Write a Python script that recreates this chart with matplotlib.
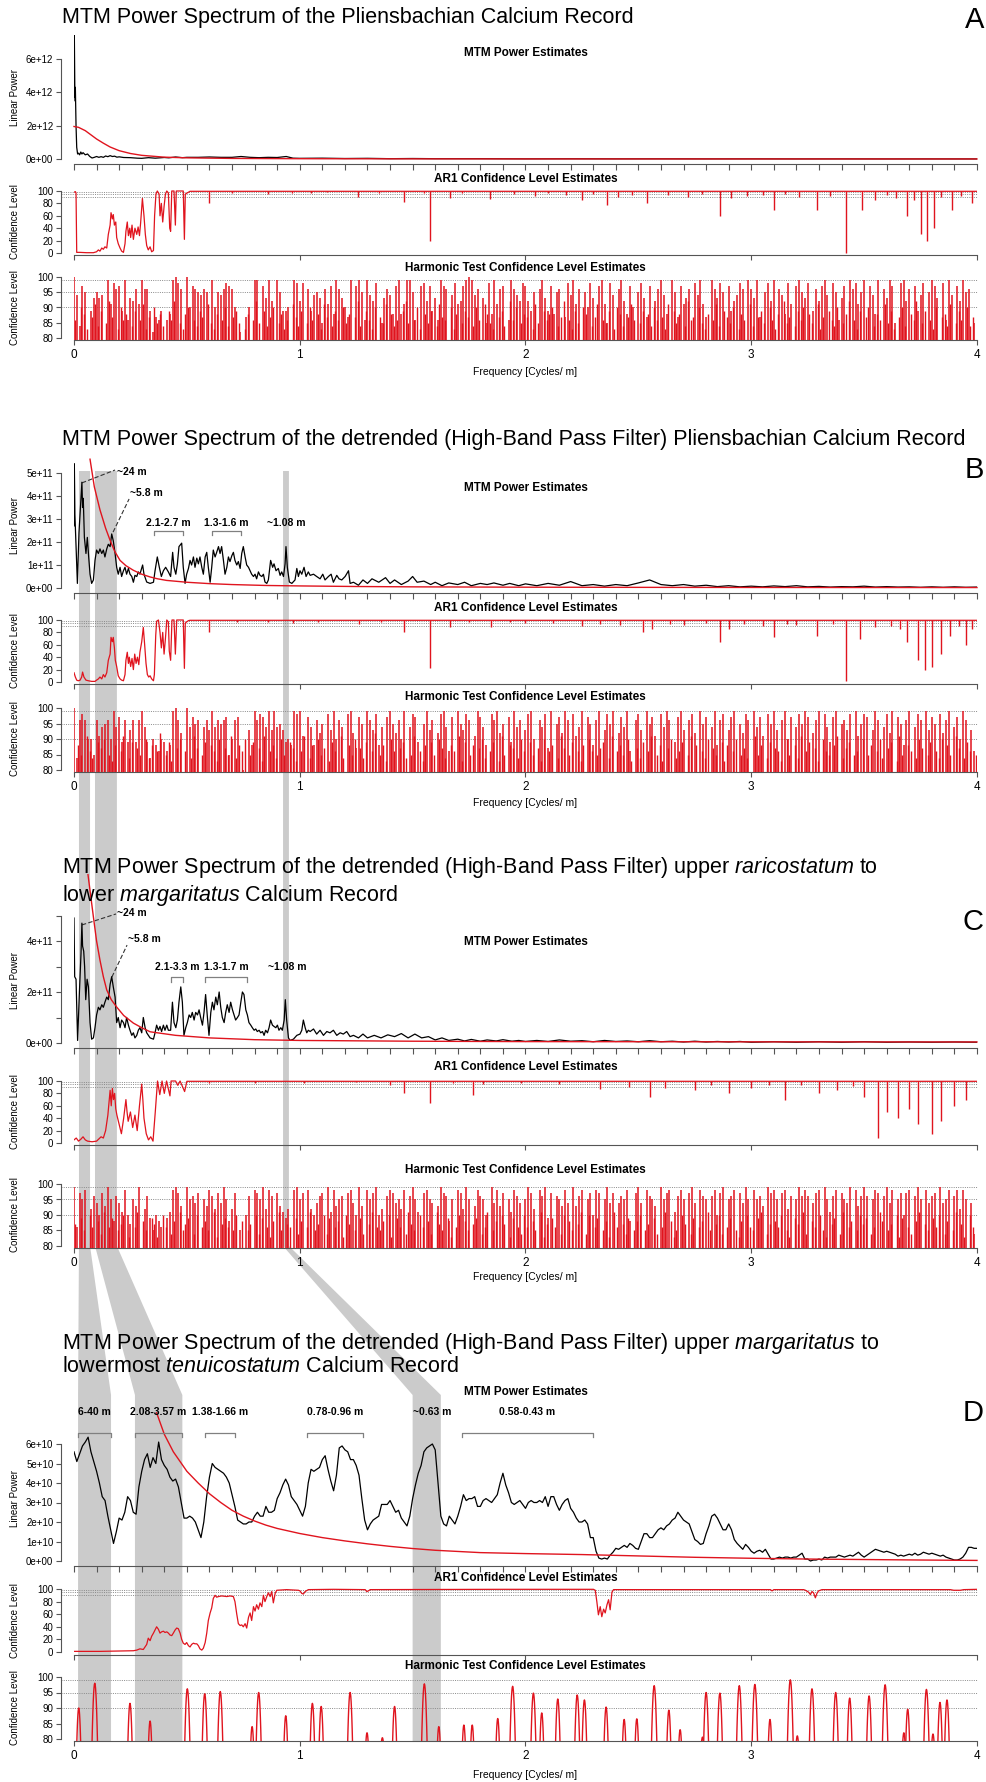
import numpy as np
import matplotlib
matplotlib.use("Agg")
import matplotlib.pyplot as plt
from matplotlib.patches import Polygon

plt.rcParams['font.family'] = ['Liberation Sans', 'DejaVu Sans']
plt.rcParams['mathtext.fontset'] = 'custom'
plt.rcParams['mathtext.rm'] = 'Liberation Sans'
plt.rcParams['mathtext.it'] = 'Liberation Sans:italic'

W, H = 987, 1782
RED = '#e0141e'
BAND = '#cbcbcb'
AXC = '#555555'
DOTC = '#8a8a8a'

# ----------------------------------------------------------------- data
# Panel A (power in units of 1e12)
A_mtm = [(0.0, 3.5), (0.0015, 7.4), (0.004, 3.7), (0.006, 4.3), (0.009, 2.0), (0.012, 0.7),
         (0.016, 0.3), (0.02, 0.35), (0.025, 0.25), (0.03, 0.42), (0.035, 0.3), (0.04, 0.38),
         (0.05, 0.25), (0.06, 0.3), (0.07, 0.15), (0.08, 0.06), (0.09, 0.1), (0.10, 0.15),
         (0.11, 0.1), (0.12, 0.14), (0.13, 0.1), (0.14, 0.18), (0.15, 0.14), (0.16, 0.2),
         (0.17, 0.15), (0.18, 0.17), (0.19, 0.11), (0.20, 0.13), (0.22, 0.09), (0.25, 0.08),
         (0.28, 0.05), (0.30, 0.04), (0.33, 0.08), (0.36, 0.05), (0.40, 0.09), (0.42, 0.07),
         (0.45, 0.12), (0.48, 0.08), (0.50, 0.1), (0.55, 0.1), (0.60, 0.12), (0.65, 0.1),
         (0.70, 0.1), (0.74, 0.15), (0.78, 0.1), (0.82, 0.08), (0.86, 0.1), (0.90, 0.09),
         (0.94, 0.15), (0.97, 0.05), (1.0, 0.04), (1.1, 0.05), (1.2, 0.03), (1.3, 0.04),
         (1.4, 0.02), (1.5, 0.03), (1.6, 0.02), (1.8, 0.02), (2.0, 0.01), (2.2, 0.015),
         (2.4, 0.01), (2.6, 0.012), (2.8, 0.008), (3.0, 0.01), (3.2, 0.006), (3.4, 0.008),
         (3.6, 0.005), (3.8, 0.006), (4.0, 0.005)]
A_ar1fit = [(0.0, 1.95), (0.02, 1.9), (0.05, 1.7), (0.08, 1.4), (0.10, 1.2), (0.13, 0.95),
            (0.16, 0.72), (0.20, 0.5), (0.25, 0.33), (0.30, 0.22), (0.40, 0.11), (0.50, 0.07),
            (0.70, 0.035), (1.0, 0.018), (1.5, 0.008), (2.0, 0.005), (3.0, 0.003), (4.0, 0.002)]
A_ar1 = [(0.0, 98), (0.006, 99), (0.009, 97), (0.012, 1), (0.027, 1), (0.056, 0.5), (0.086, 0.5),
         (0.10, 2), (0.108, 5), (0.115, 3), (0.123, 8), (0.13, 6), (0.137, 10), (0.145, 8),
         (0.152, 30), (0.16, 45), (0.164, 65), (0.17, 55), (0.174, 62), (0.179, 45), (0.185, 50),
         (0.189, 25), (0.196, 15), (0.204, 8), (0.211, 3), (0.219, 1), (0.226, 15), (0.23, 35),
         (0.236, 50), (0.241, 28), (0.247, 40), (0.251, 25), (0.257, 45), (0.263, 22), (0.27, 40),
         (0.278, 30), (0.284, 42), (0.29, 28), (0.295, 48), (0.303, 88), (0.31, 60), (0.316, 30),
         (0.322, 12), (0.329, 5), (0.337, 10), (0.344, 2), (0.352, 4), (0.357, 60), (0.363, 95),
         (0.369, 100), (0.377, 95), (0.381, 60), (0.387, 80), (0.393, 50), (0.399, 75),
         (0.405, 95), (0.411, 100), (0.418, 97), (0.424, 40), (0.428, 35), (0.433, 100),
         (0.443, 100), (0.449, 45), (0.453, 100), (0.484, 100), (0.489, 22), (0.493, 95),
         (0.502, 97), (0.514, 99.5), (4.0, 99.5)]
A_ar1_dips = [(0.598, 80), (0.70, 97), (0.858, 95), (0.967, 96), (1.05, 97), (1.12, 98),
              (1.26, 91), (1.35, 96), (1.46, 82), (1.55, 97), (1.577, 20), (1.666, 88),
              (1.72, 96), (1.843, 87), (1.95, 95), (2.04, 92), (2.10, 96), (2.18, 94), (2.25, 85),
              (2.30, 95), (2.36, 78), (2.41, 90), (2.47, 93), (2.54, 80), (2.63, 94), (2.72, 90),
              (2.78, 95), (2.86, 60), (2.91, 88), (2.98, 92), (3.05, 93), (3.10, 70), (3.15, 95),
              (3.21, 90), (3.29, 70), (3.35, 92), (3.42, 0), (3.49, 70), (3.55, 85), (3.60, 93),
              (3.64, 88), (3.69, 60), (3.72, 85), (3.75, 30), (3.78, 20), (3.81, 40), (3.84, 90),
              (3.89, 70), (3.93, 92), (3.98, 80)]
A_harm = [
    100, 94, 84, 97, 95, 0, 89, 93, 95, 93, 94, 0, 99, 91, 98, 96, 97, 89, 99, 86,
    93, 92, 96, 91, 99, 96, 96, 89, 82, 87, 86, 89, 0, 86, 88, 99, 100, 98, 96, 0,
    100, 90, 97, 96, 95, 94, 96, 95, 0, 99, 90, 95, 94, 96, 98, 97, 96, 90, 0, 82,
    0, 87, 90, 0, 99, 99, 0, 97, 93, 99, 92, 0, 99, 95, 89, 89, 90, 0, 99, 98,
    92, 98, 0, 96, 89, 94, 95, 93, 85, 96, 91, 97, 88, 99, 96, 93, 90, 87, 99, 0,
    97, 99, 95, 86, 99, 94, 92, 98, 0, 85, 93, 96, 94, 88, 97, 99, 88, 91, 99, 99,
    95, 86, 0, 97, 98, 92, 97, 89, 93, 86, 99, 97, 96, 0, 94, 98, 91, 92, 97, 99,
    100, 99, 94, 96, 0, 93, 85, 98, 88, 99, 91, 96, 97, 0, 86, 99, 96, 94, 92, 98,
    97, 92, 89, 95, 0, 96, 99, 93, 89, 97, 88, 95, 96, 0, 87, 98, 94, 99, 91, 96,
    0, 95, 90, 98, 93, 0, 97, 99, 91, 85, 98, 94, 0, 96, 99, 92, 88, 97, 90, 0,
    95, 98, 93, 87, 97, 0, 92, 96, 99, 94, 88, 0, 99, 95, 87, 97, 91, 93, 96, 0,
    98, 94, 99, 91, 87, 0, 99, 96, 93, 98, 95, 0, 97, 89, 92, 94, 98, 96, 0, 99,
    96, 93, 99, 87, 0, 95, 98, 92, 99, 0, 96, 94, 88, 98, 91, 0, 97, 99, 95, 93,
    98, 0, 89, 96, 92, 97, 99, 94, 0, 98, 95, 86, 93, 97, 0, 99, 96, 98, 91, 95,
    99, 0, 97, 94, 88, 99, 0, 96, 93, 99, 97, 85, 0, 98, 99, 92, 96, 0, 97, 89,
    94, 98, 0, 95, 99, 97, 93, 0, 98, 86, 99, 94, 0, 97, 92, 99, 95, 96, 0, 85]
A_harm_minor = [
    86, 0, 90, 88, 83, 0, 87, 91, 84, 89, 0, 85, 92, 87, 0, 83, 90, 86, 88, 0,
    84, 89, 0, 86, 91, 83, 87, 0, 90, 85, 88, 84, 0, 89, 86, 92, 0, 85, 83, 88,
    90, 0, 86, 84, 89, 87, 0, 91, 85, 83, 88, 0, 86, 90, 84, 0, 87, 89, 85, 0,
    83, 88, 0, 86, 92, 85, 0, 89, 84, 87, 90, 0, 85, 88, 83, 86, 0, 91, 87, 84,
    89, 0, 85, 90, 86, 0, 88, 83, 91, 87, 0, 84, 89, 86, 0, 90, 85, 88, 0, 87,
    92, 84, 0, 89, 86, 83, 90, 0, 87, 85, 91, 0, 88, 84, 86, 0, 89, 92, 85, 0,
    86, 90, 83, 0, 88, 85, 89, 0, 84, 91, 87, 86, 0, 90, 83, 88, 0, 85, 89, 87,
    0, 84, 90, 86, 0, 91, 88, 85, 83, 0, 87, 89, 84, 0, 92, 86, 90, 0, 85, 88,
    87, 0, 83, 91, 85, 0, 89, 86, 88, 90, 0, 84, 87, 92, 0, 86, 83, 89, 85, 0,
    90, 88, 0, 84, 87, 91, 0, 86, 85, 89, 0, 83, 90, 88, 84, 0, 87, 91, 86, 0,
    85, 89, 0, 88, 84, 90, 86, 0, 87, 83, 91, 0, 89, 85, 88, 0, 84, 92, 86, 87,
    0, 90, 85, 83, 88, 0, 86, 91, 84, 0, 89, 87, 85, 90, 0, 83, 88, 86, 0, 91,
    84, 0, 87, 89, 85, 0, 90, 86, 83, 88, 0, 92, 85, 87, 0, 84, 89, 86, 90, 0,
    88, 85, 0, 91, 83, 87, 0, 89, 86, 84, 90, 0, 85, 88, 92, 0, 86, 83, 89, 0,
    87, 90, 0, 84, 88, 86, 0, 91, 85, 89, 83, 0, 87, 90, 84, 0, 88, 86, 92, 0,
    85, 89, 0, 86, 83, 90, 0, 87, 88, 84, 91, 0, 85, 89, 86, 0, 90, 84, 87, 0]

# Panel B (power in units of 1e11)
B_mtm = [(0.000, 2.7), (0.0015, 5.4), (0.004, 3.2), (0.006, 2.65), (0.012, 1.0), (0.015, 0.2),
         (0.022, 2.4), (0.030, 3.8), (0.035, 4.6), (0.038, 3.5), (0.041, 3.9), (0.046, 2.2),
         (0.053, 1.5), (0.059, 2.2), (0.065, 1.35), (0.071, 0.6), (0.078, 0.2), (0.086, 0.35),
         (0.093, 1.2), (0.100, 1.65), (0.108, 1.5), (0.115, 1.7), (0.123, 1.5), (0.130, 1.65),
         (0.137, 1.35), (0.145, 1.7), (0.152, 1.9), (0.160, 1.8), (0.167, 2.35), (0.174, 2.05),
         (0.182, 1.5), (0.189, 0.9), (0.196, 0.6), (0.204, 0.9), (0.211, 0.5), (0.219, 0.75),
         (0.226, 0.9), (0.233, 0.6), (0.241, 0.85), (0.248, 0.6), (0.256, 0.5), (0.263, 0.25),
         (0.270, 0.55), (0.278, 0.5), (0.285, 0.7), (0.292, 0.6), (0.304, 1.0), (0.310, 0.6),
         (0.322, 0.26), (0.337, 0.2), (0.352, 0.25), (0.359, 0.75), (0.369, 1.35), (0.378, 0.9),
         (0.387, 0.5), (0.396, 0.75), (0.406, 0.9), (0.418, 0.7), (0.428, 0.5), (0.437, 1.55),
         (0.443, 0.9), (0.451, 0.6), (0.458, 1.05), (0.465, 1.8), (0.477, 1.95), (0.484, 0.9),
         (0.492, 0.2), (0.499, 0.6), (0.507, 0.85), (0.514, 1.2), (0.521, 1.0), (0.529, 1.35),
         (0.536, 0.9), (0.544, 1.3), (0.551, 1.05), (0.558, 1.35), (0.566, 0.9), (0.573, 0.6),
         (0.581, 1.35), (0.588, 1.55), (0.595, 0.9), (0.603, 0.25), (0.610, 0.9), (0.617, 1.65),
         (0.625, 1.35), (0.632, 1.55), (0.640, 1.8), (0.647, 1.5), (0.654, 1.8), (0.662, 1.2),
         (0.669, 0.6), (0.677, 0.9), (0.684, 1.35), (0.691, 1.15), (0.699, 1.4), (0.706, 1.55),
         (0.713, 1.2), (0.721, 1.0), (0.728, 1.15), (0.736, 0.85), (0.743, 1.5), (0.750, 1.8),
         (0.758, 1.35), (0.765, 1.0), (0.773, 0.9), (0.780, 0.75), (0.787, 0.6), (0.795, 0.5),
         (0.802, 0.6), (0.809, 0.4), (0.817, 0.7), (0.824, 0.55), (0.832, 0.5), (0.839, 0.6),
         (0.846, 0.26), (0.854, 0.2), (0.861, 0.35), (0.871, 1.2), (0.880, 0.9), (0.886, 1.05),
         (0.895, 0.75), (0.905, 0.85), (0.913, 0.55), (0.920, 0.7), (0.928, 0.5), (0.935, 1.05),
         (0.939, 1.8), (0.945, 0.9), (0.954, 0.26), (0.965, 0.2), (0.979, 0.35), (0.987, 0.85),
         (0.994, 0.5), (1.001, 0.75), (1.009, 0.6), (1.019, 0.9), (1.028, 0.5), (1.038, 0.7),
         (1.046, 0.55), (1.061, 0.6), (1.075, 0.5), (1.090, 0.4), (1.102, 0.6), (1.112, 0.35),
         (1.127, 0.5), (1.139, 0.6), (1.149, 0.25), (1.164, 0.55), (1.174, 0.4), (1.186, 0.35),
         (1.201, 0.5), (1.216, 0.75), (1.223, 0.2), (1.238, 0.25), (1.260, 0.12), (1.28, 0.35),
         (1.30, 0.2), (1.32, 0.4), (1.35, 0.25), (1.38, 0.45), (1.40, 0.2), (1.42, 0.35),
         (1.45, 0.15), (1.48, 0.3), (1.50, 0.5), (1.52, 0.25), (1.55, 0.3), (1.58, 0.15),
         (1.60, 0.25), (1.63, 0.1), (1.66, 0.22), (1.70, 0.15), (1.73, 0.25), (1.76, 0.1),
         (1.80, 0.2), (1.83, 0.15), (1.86, 0.22), (1.90, 0.12), (1.93, 0.2), (1.97, 0.1),
         (2.00, 0.18), (2.05, 0.1), (2.10, 0.2), (2.15, 0.12), (2.20, 0.28), (2.25, 0.1),
         (2.30, 0.15), (2.35, 0.08), (2.40, 0.15), (2.45, 0.1), (2.50, 0.22), (2.55, 0.35),
         (2.60, 0.15), (2.65, 0.1), (2.70, 0.15), (2.75, 0.08), (2.80, 0.12), (2.85, 0.06),
         (2.90, 0.1), (2.95, 0.05), (3.00, 0.08), (3.05, 0.05), (3.10, 0.09), (3.15, 0.06),
         (3.20, 0.1), (3.25, 0.05), (3.30, 0.07), (3.35, 0.04), (3.40, 0.06), (3.45, 0.05),
         (3.50, 0.08), (3.55, 0.04), (3.60, 0.06), (3.65, 0.04), (3.70, 0.05), (3.75, 0.03),
         (3.80, 0.05), (3.85, 0.03), (3.90, 0.05), (3.95, 0.03), (4.00, 0.04)]
B_ar1fit = [(0.071, 5.6), (0.09, 4.4), (0.115, 3.4), (0.14, 2.6), (0.16, 2.07), (0.18, 1.6),
            (0.204, 1.2), (0.23, 0.97), (0.263, 0.77), (0.30, 0.6), (0.337, 0.48), (0.37, 0.4),
            (0.41, 0.33), (0.5, 0.25), (0.6, 0.19), (0.7, 0.15), (0.85, 0.11), (1.0, 0.09),
            (1.25, 0.065), (1.5, 0.05), (2.0, 0.035), (2.5, 0.028), (3.0, 0.024), (3.5, 0.021),
            (4.0, 0.02)]
B_ar1 = [(0.0, 15), (0.006, 8), (0.012, 3), (0.019, 2), (0.027, 3), (0.034, 8), (0.038, 16),
         (0.044, 8), (0.053, 3), (0.064, 2), (0.078, 1), (0.093, 1), (0.10, 3), (0.108, 5),
         (0.115, 8), (0.123, 5), (0.13, 12), (0.137, 8), (0.145, 15), (0.152, 35), (0.16, 45),
         (0.164, 72), (0.17, 65), (0.174, 72), (0.179, 55), (0.183, 35), (0.189, 25), (0.196, 10),
         (0.204, 5), (0.211, 3), (0.219, 2), (0.226, 12), (0.23, 35), (0.236, 48), (0.241, 30),
         (0.245, 40), (0.251, 25), (0.257, 38), (0.263, 20), (0.269, 45), (0.275, 30), (0.281, 40),
         (0.287, 28), (0.292, 48), (0.30, 65), (0.307, 88), (0.313, 60), (0.319, 30), (0.325, 12),
         (0.331, 8), (0.337, 10), (0.344, 5), (0.352, 2), (0.356, 12), (0.362, 75), (0.366, 98),
         (0.374, 100), (0.381, 80), (0.387, 55), (0.393, 80), (0.399, 45), (0.405, 70),
         (0.411, 100), (0.418, 97), (0.422, 50), (0.428, 35), (0.434, 100), (0.443, 100),
         (0.449, 45), (0.455, 100), (0.484, 100), (0.489, 22), (0.493, 95), (0.499, 97),
         (0.507, 99), (0.514, 99.5), (4.0, 99.5)]
B_ar1_dips = [(0.60, 80), (0.72, 97), (0.858, 96), (0.972, 95), (1.08, 97), (1.263, 93),
              (1.36, 97), (1.464, 80), (1.578, 22), (1.666, 88), (1.75, 96), (1.848, 88),
              (1.93, 96), (2.0, 95), (2.12, 95), (2.25, 90), (2.33, 94), (2.42, 92), (2.52, 80),
              (2.56, 85), (2.64, 94), (2.70, 92), (2.80, 95), (2.86, 65), (2.90, 85), (2.97, 93),
              (3.05, 90), (3.10, 72), (3.16, 94), (3.20, 92), (3.29, 75), (3.36, 93), (3.42, 2),
              (3.48, 70), (3.55, 88), (3.62, 90), (3.66, 86), (3.69, 65), (3.74, 35), (3.77, 20),
              (3.80, 25), (3.84, 45), (3.88, 75), (3.92, 90), (3.95, 60), (3.98, 85)]
B_harm = [
    100, 84, 96, 98, 96, 90, 90, 85, 96, 91, 94, 95, 96, 90, 99, 94, 97, 89, 96, 89,
    93, 96, 89, 96, 99, 94, 89, 84, 90, 88, 86, 90, 89, 86, 88, 99, 100, 96, 92, 0,
    100, 94, 97, 95, 96, 0, 94, 96, 93, 99, 94, 96, 95, 96, 97, 85, 90, 96, 97, 0,
    80, 0, 93, 88, 99, 96, 98, 97, 94, 99, 93, 99, 94, 95, 93, 89, 90, 88, 99, 98,
    99, 91, 0, 97, 94, 88, 96, 92, 95, 0, 98, 93, 99, 90, 96, 94, 0, 98, 99, 92,
    87, 97, 95, 0, 99, 96, 93, 98, 88, 94, 0, 97, 99, 95, 92, 96, 90, 99, 0, 94,
    98, 97, 89, 0, 95, 99, 93, 96, 0, 92, 98, 99, 94, 86, 97, 0, 99, 95, 93, 98,
    96, 0, 91, 99, 97, 94, 88, 0, 98, 96, 99, 92, 95, 0, 97, 89, 99, 94, 96, 0,
    93, 98, 99, 90, 0, 96, 94, 98, 87, 99, 0, 95, 97, 92, 99, 96, 0, 98, 91, 94,
    99, 0, 97, 95, 88, 96, 99, 0, 93, 98, 95, 99, 0, 92, 97, 94, 99, 86, 0, 96,
    98, 93, 0, 99, 95, 97, 91, 0, 98, 94, 99, 96, 0, 89, 97, 99, 93, 0, 96, 98,
    92, 0, 99, 95, 97, 0, 94, 99, 88, 96, 98, 0, 93, 97, 99, 0, 95, 92, 98, 96,
    0, 99, 94, 97, 91, 0, 98, 95, 99, 93, 0, 96, 99, 90, 97, 0, 94, 98, 95, 99,
    97, 0, 92, 96, 99, 0, 98, 94, 89, 97, 99, 0, 95, 96, 93, 98, 0, 99, 91, 95,
    98, 97, 0, 93, 99, 96, 0, 94, 98, 92, 99, 0, 97, 95, 88, 96, 99, 0, 94, 98,
    96, 0, 99, 93, 97, 95, 0, 98, 92, 96, 99, 0, 94, 97, 90, 99, 96, 0, 93, 86]
B_harm_minor = [
    0, 88, 85, 0, 91, 86, 84, 0, 89, 87, 90, 0, 85, 83, 88, 0, 86, 91, 0, 84,
    89, 0, 87, 85, 0, 90, 84, 88, 0, 86, 92, 0, 85, 89, 83, 0, 87, 90, 0, 86,
    0, 84, 91, 87, 0, 85, 89, 0, 88, 86, 83, 90, 0, 87, 85, 91, 0, 84, 88, 86,
    90, 0, 85, 89, 0, 87, 83, 91, 0, 86, 88, 84, 0, 90, 85, 0, 89, 87, 83, 0,
    86, 91, 0, 84, 88, 0, 90, 85, 87, 0, 83, 89, 86, 0, 91, 84, 0, 88, 85, 90,
    0, 87, 84, 89, 0, 86, 92, 0, 85, 88, 83, 0, 90, 86, 0, 87, 89, 84, 0, 85,
    91, 0, 86, 83, 88, 0, 89, 85, 0, 90, 87, 84, 0, 88, 86, 0, 91, 83, 89, 0,
    85, 88, 0, 87, 90, 84, 0, 86, 89, 0, 83, 91, 85, 0, 88, 87, 0, 84, 90, 86,
    0, 89, 85, 0, 87, 83, 90, 0, 86, 88, 0, 84, 91, 87, 0, 85, 89, 0, 86, 83,
    88, 0, 90, 86, 0, 85, 87, 89, 0, 84, 91, 0, 86, 88, 85, 0, 90, 83, 0, 87,
    84, 89, 0, 86, 91, 0, 85, 88, 83, 0, 87, 90, 0, 84, 86, 89, 0, 85, 91, 0,
    88, 0, 86, 84, 90, 0, 87, 85, 0, 89, 83, 88, 0, 86, 90, 0, 85, 87, 84, 0,
    0, 91, 85, 88, 0, 84, 89, 0, 87, 86, 83, 0, 90, 85, 0, 88, 84, 91, 0, 86,
    89, 0, 87, 83, 0, 90, 86, 85, 0, 88, 91, 0, 84, 87, 89, 0, 85, 86, 0, 90,
    0, 85, 88, 0, 86, 90, 84, 0, 87, 89, 0, 83, 91, 85, 0, 88, 86, 0, 84, 90,
    87, 0, 85, 89, 0, 86, 84, 90, 0, 88, 85, 0, 91, 87, 0, 84, 89, 86, 0, 85]

# Panel C (power in units of 1e11)
C_mtm = [(0.000, 4.9), (0.003, 2.6), (0.009, 2.5), (0.016, 0.1), (0.024, 2.0), (0.031, 3.5),
         (0.035, 4.7), (0.038, 3.8), (0.043, 3.6), (0.047, 3.0), (0.052, 1.7), (0.058, 2.5),
         (0.064, 2.2), (0.071, 0.8), (0.078, 0.15), (0.086, 0.2), (0.093, 0.6), (0.100, 1.1),
         (0.108, 1.4), (0.115, 1.3), (0.123, 1.5), (0.130, 1.4), (0.137, 1.6), (0.145, 1.8),
         (0.152, 1.7), (0.160, 2.3), (0.167, 2.6), (0.174, 2.2), (0.182, 1.8), (0.189, 0.8),
         (0.196, 1.0), (0.204, 0.6), (0.211, 0.9), (0.219, 0.8), (0.226, 0.6), (0.233, 1.0),
         (0.241, 0.7), (0.248, 0.5), (0.256, 0.3), (0.263, 0.4), (0.270, 0.2), (0.278, 0.3),
         (0.285, 0.5), (0.292, 0.6), (0.300, 0.4), (0.307, 1.0), (0.315, 0.6), (0.322, 0.4),
         (0.337, 0.2), (0.352, 0.15), (0.359, 0.4), (0.366, 0.7), (0.374, 0.5), (0.381, 0.65),
         (0.388, 0.45), (0.396, 0.7), (0.403, 0.5), (0.411, 0.7), (0.418, 0.5), (0.428, 0.5),
         (0.436, 1.6), (0.443, 0.8), (0.451, 0.6), (0.458, 0.9), (0.465, 1.6), (0.473, 2.2),
         (0.480, 1.6), (0.487, 0.3), (0.495, 0.6), (0.502, 0.8), (0.510, 1.1), (0.517, 1.0),
         (0.524, 1.2), (0.532, 0.9), (0.539, 1.2), (0.547, 1.1), (0.554, 1.3), (0.561, 1.0),
         (0.569, 0.7), (0.576, 1.2), (0.583, 1.9), (0.591, 1.0), (0.598, 0.3), (0.606, 1.2),
         (0.613, 1.6), (0.620, 1.3), (0.628, 1.8), (0.635, 1.5), (0.643, 2.0), (0.650, 1.4),
         (0.657, 1.0), (0.665, 0.8), (0.672, 1.2), (0.679, 1.5), (0.687, 1.2), (0.694, 1.6),
         (0.702, 1.3), (0.709, 1.1), (0.716, 0.9), (0.724, 1.0), (0.731, 1.1), (0.739, 1.6),
         (0.746, 2.0), (0.753, 1.9), (0.761, 1.3), (0.768, 1.1), (0.775, 0.8), (0.783, 0.7),
         (0.790, 0.6), (0.798, 0.5), (0.805, 0.55), (0.812, 0.45), (0.820, 0.5), (0.827, 0.4),
         (0.835, 0.45), (0.842, 0.3), (0.849, 0.5), (0.857, 0.4), (0.864, 0.6), (0.871, 0.9),
         (0.879, 0.7), (0.886, 0.65), (0.894, 0.6), (0.901, 0.7), (0.908, 0.5), (0.916, 0.6),
         (0.923, 0.5), (0.931, 0.9), (0.936, 1.7), (0.942, 0.9), (0.950, 0.2), (0.957, 0.1),
         (0.972, 0.15), (0.987, 0.3), (1.001, 0.35), (1.009, 0.5), (1.016, 0.9), (1.024, 0.6),
         (1.031, 0.4), (1.038, 0.5), (1.046, 0.45), (1.061, 0.55), (1.075, 0.35), (1.090, 0.5),
         (1.105, 0.3), (1.120, 0.45), (1.134, 0.4), (1.149, 0.5), (1.164, 0.3), (1.179, 0.4),
         (1.193, 0.35), (1.208, 0.45), (1.223, 0.25), (1.238, 0.3), (1.26, 0.2), (1.28, 0.35),
         (1.30, 0.2), (1.33, 0.3), (1.36, 0.2), (1.39, 0.32), (1.42, 0.25), (1.45, 0.37),
         (1.48, 0.2), (1.51, 0.35), (1.54, 0.2), (1.57, 0.25), (1.60, 0.12), (1.63, 0.2),
         (1.66, 0.1), (1.70, 0.15), (1.73, 0.08), (1.76, 0.14), (1.80, 0.07), (1.83, 0.12),
         (1.87, 0.08), (1.90, 0.13), (1.94, 0.07), (1.97, 0.1), (2.00, 0.06), (2.05, 0.1),
         (2.10, 0.06), (2.15, 0.12), (2.20, 0.07), (2.25, 0.09), (2.30, 0.05), (2.35, 0.1),
         (2.40, 0.06), (2.45, 0.08), (2.50, 0.05), (2.55, 0.09), (2.60, 0.05), (2.65, 0.07),
         (2.70, 0.04), (2.75, 0.07), (2.80, 0.04), (2.85, 0.06), (2.90, 0.04), (2.95, 0.06),
         (3.00, 0.03), (3.10, 0.05), (3.20, 0.03), (3.30, 0.05), (3.40, 0.03), (3.50, 0.05),
         (3.60, 0.03), (3.70, 0.04), (3.80, 0.03), (3.90, 0.04), (4.00, 0.03)]
C_ar1fit = [(0.062, 6.6), (0.075, 5.7), (0.086, 4.94), (0.10, 4.0), (0.115, 3.25), (0.13, 2.6),
            (0.145, 2.08), (0.165, 1.7), (0.189, 1.41), (0.22, 1.08), (0.263, 0.78), (0.30, 0.6),
            (0.337, 0.44), (0.45, 0.3), (0.6, 0.2), (0.8, 0.13), (1.0, 0.1), (1.5, 0.07),
            (2.0, 0.055), (3.0, 0.045), (4.0, 0.04)]
C_ar1 = [(0.0, 5), (0.01, 8), (0.02, 3), (0.03, 6), (0.04, 10), (0.05, 5), (0.06, 3), (0.08, 2),
         (0.10, 3), (0.12, 10), (0.13, 8), (0.14, 20), (0.15, 45), (0.16, 85), (0.165, 60),
         (0.17, 88), (0.175, 70), (0.18, 80), (0.185, 55), (0.19, 45), (0.20, 30), (0.21, 15),
         (0.22, 40), (0.23, 70), (0.235, 50), (0.24, 35), (0.25, 50), (0.26, 25), (0.27, 45),
         (0.28, 20), (0.29, 60), (0.30, 95), (0.305, 70), (0.31, 40), (0.32, 15), (0.33, 5),
         (0.34, 10), (0.35, 3), (0.36, 50), (0.37, 100), (0.38, 78), (0.39, 100), (0.40, 80),
         (0.41, 100), (0.425, 76), (0.43, 100), (0.45, 100), (0.46, 93), (0.47, 100),
         (0.49, 83), (0.50, 99.5), (4.0, 99.5)]
C_ar1_dips = [(0.60, 96), (0.80, 97), (1.02, 97), (1.25, 98), (1.40, 94), (1.46, 80),
              (1.577, 65), (1.68, 96), (1.766, 77), (1.81, 95), (1.98, 96), (2.15, 95),
              (2.33, 87), (2.46, 90), (2.55, 75), (2.62, 88), (2.75, 85), (2.82, 94), (2.90, 80),
              (3.00, 88), (3.08, 94), (3.15, 70), (3.22, 93), (3.30, 80), (3.38, 85), (3.45, 92),
              (3.50, 75), (3.56, 8), (3.60, 50), (3.65, 40), (3.70, 55), (3.74, 30), (3.80, 15),
              (3.84, 35), (3.90, 60), (3.95, 70)]
C_harm = [
    99, 86, 97, 95, 98, 0, 92, 96, 94, 90, 97, 93, 99, 95, 88, 96, 94, 91, 98, 90,
    87, 95, 93, 99, 0, 92, 96, 89, 85, 90, 88, 86, 0, 89, 91, 98, 99, 97, 93, 0,
    99, 95, 96, 94, 97, 0, 95, 93, 98, 96, 92, 97, 94, 99, 95, 88, 92, 97, 0, 85,
    0, 90, 96, 0, 98, 97, 95, 99, 92, 98, 96, 0, 97, 93, 91, 89, 92, 0, 98, 99,
    95, 97, 0, 98, 92, 90, 94, 96, 97, 0, 99, 91, 98, 93, 95, 96, 0, 97, 98, 94,
    90, 99, 93, 0, 98, 95, 97, 99, 90, 92, 0, 96, 98, 97, 94, 95, 92, 98, 0, 96,
    99, 95, 91, 0, 97, 98, 95, 94, 0, 93, 99, 97, 96, 88, 95, 0, 98, 97, 92, 99,
    95, 0, 93, 98, 96, 95, 90, 0, 99, 94, 98, 93, 97, 0, 95, 91, 98, 96, 94, 0,
    95, 99, 97, 92, 0, 98, 96, 99, 89, 97, 0, 96, 95, 93, 98, 94, 0, 99, 93, 96,
    98, 0, 95, 97, 90, 98, 97, 0, 95, 99, 94, 97, 0, 94, 96, 95, 98, 88, 0, 97,
    99, 94, 0, 98, 96, 95, 93, 0, 99, 95, 97, 98, 0, 91, 96, 98, 95, 0, 97, 99,
    94, 0, 98, 96, 95, 0, 96, 98, 90, 97, 99, 0, 95, 96, 98, 0, 97, 94, 99, 95,
    0, 98, 95, 96, 93, 0, 99, 97, 98, 95, 0, 97, 98, 92, 96, 0, 95, 99, 96, 98,
    96, 0, 94, 97, 98, 0, 99, 95, 91, 96, 98, 0, 97, 95, 94, 99, 0, 98, 93, 96,
    99, 96, 0, 95, 98, 97, 0, 96, 99, 94, 98, 0, 95, 97, 90, 97, 98, 0, 96, 99,
    95, 0, 98, 94, 96, 97, 0, 99, 94, 95, 98, 0, 96, 98, 92, 98, 95, 0, 94, 84]
C_harm_minor = [
    87, 0, 89, 85, 0, 90, 86, 0, 88, 84, 91, 0, 86, 89, 0, 85, 87, 90, 0, 83,
    0, 86, 91, 0, 88, 85, 0, 89, 87, 83, 0, 90, 86, 0, 84, 88, 0, 91, 85, 87,
    89, 0, 84, 90, 0, 86, 88, 85, 0, 91, 83, 0, 87, 89, 86, 0, 85, 90, 0, 88,
    0, 85, 87, 0, 90, 84, 89, 0, 86, 83, 88, 0, 91, 85, 0, 87, 86, 0, 89, 84,
    88, 0, 86, 91, 0, 85, 87, 0, 90, 84, 89, 0, 86, 88, 0, 83, 90, 87, 0, 85,
    0, 89, 84, 0, 87, 91, 0, 86, 85, 88, 0, 90, 83, 0, 89, 86, 0, 84, 91, 87,
    85, 0, 90, 86, 0, 88, 84, 0, 91, 87, 85, 0, 89, 83, 0, 86, 90, 0, 88, 85,
    0, 87, 89, 0, 84, 86, 91, 0, 85, 88, 0, 90, 87, 0, 83, 89, 0, 86, 84, 90,
    86, 0, 88, 85, 0, 91, 83, 87, 0, 89, 86, 0, 84, 90, 0, 88, 85, 0, 87, 91,
    0, 84, 90, 0, 86, 89, 0, 85, 88, 83, 0, 91, 86, 0, 87, 84, 89, 0, 85, 88,
    90, 0, 85, 87, 0, 89, 84, 0, 86, 91, 0, 88, 83, 85, 0, 90, 87, 0, 84, 89,
    0, 86, 88, 0, 91, 85, 0, 87, 90, 84, 0, 86, 89, 0, 85, 83, 88, 0, 90, 86,
    85, 0, 89, 91, 0, 84, 87, 0, 88, 86, 90, 0, 85, 83, 0, 89, 87, 0, 91, 84,
    0, 88, 86, 0, 90, 85, 83, 0, 87, 89, 0, 84, 91, 0, 86, 88, 0, 85, 90, 87,
    89, 0, 84, 86, 0, 91, 88, 0, 85, 87, 0, 90, 83, 89, 0, 86, 84, 0, 88, 91,
    0, 87, 85, 0, 89, 86, 90, 0, 84, 88, 0, 85, 91, 0, 87, 83, 0, 90, 86, 0]

# Panel D (power in units of 1e10), regular grid of step 0.0125 from 0 to 4
D_mtm_power = [
    5.6, 5.1, 5.5, 5.9, 6.1, 6.35, 5.6, 5.1, 4.6, 4.0, 3.3, 3.1, 2.3, 1.6, 0.9, 1.5, 2.2, 2.1, 2.5, 3.3,
    3.1, 2.5, 2.4, 3.8, 4.6, 5.2, 5.5, 4.8, 5.3, 5.0, 6.1, 5.2, 4.9, 4.7, 4.3, 4.1, 4.2, 3.8, 3.0, 2.2,
    2.2, 2.3, 2.2, 2.0, 1.6, 1.2, 2.0, 3.3, 4.3, 5.0, 4.8, 4.7, 4.6, 4.5, 4.3, 4.0, 3.4, 2.8, 2.1, 2.0,
    1.9, 1.9, 2.0, 2.0, 2.3, 2.5, 2.3, 2.3, 2.8, 2.5, 2.5, 2.6, 3.2, 3.5, 3.9, 4.2, 3.9, 3.3, 3.1, 2.9,
    2.6, 2.3, 2.8, 4.0, 4.7, 4.6, 4.7, 4.8, 5.2, 5.4, 4.7, 4.1, 3.6, 4.4, 5.8, 5.9, 5.7, 5.6, 5.2, 5.2,
    4.9, 4.4, 3.2, 2.1, 1.6, 1.9, 2.1, 2.2, 2.3, 2.9, 2.9, 2.9, 3.1, 2.8, 2.5, 2.6, 2.2, 2.0, 1.8, 2.3,
    3.2, 3.9, 4.5, 4.9, 5.6, 5.8, 5.9, 6.0, 5.7, 4.0, 2.3, 1.9, 1.8, 2.3, 2.1, 1.9, 2.3, 2.8, 3.4, 3.1,
    3.2, 3.2, 3.3, 2.8, 2.8, 3.1, 3.2, 3.1, 3.0, 3.2, 3.4, 4.0, 4.5, 3.9, 3.5, 3.0, 2.9, 3.0, 3.1, 2.9,
    2.7, 3.0, 3.1, 3.0, 3.0, 3.1, 3.0, 3.3, 2.8, 3.3, 3.3, 2.9, 2.6, 2.9, 3.1, 3.2, 2.7, 2.5, 2.2, 2.0,
    2.0, 2.1, 1.9, 1.2, 1.2, 0.5, 0.15, 0.1, 0.15, 0.1, 0.3, 0.45, 0.65, 0.6, 0.7, 0.8, 0.7, 0.9, 0.8, 0.65,
    0.6, 1.0, 1.4, 1.4, 1.2, 1.2, 1.4, 1.6, 1.7, 1.6, 1.8, 1.9, 2.1, 2.2, 2.5, 2.3, 2.1, 2.0, 1.9, 1.5,
    1.1, 1.0, 0.85, 0.9, 1.4, 1.8, 2.3, 2.4, 2.2, 1.9, 1.6, 1.6, 1.9, 1.6, 1.1, 0.9, 0.75, 0.6, 0.85, 0.7,
    0.5, 0.4, 0.5, 0.55, 0.45, 0.6, 0.35, 0.1, 0.1, 0.15, 0.2, 0.15, 0.2, 0.2, 0.15, 0.2, 0.2, 0.3, 0.4, 0.1,
    0.1, 0.0, 0.05, 0.05, 0.1, 0.05, 0.2, 0.15, 0.2, 0.2, 0.2, 0.3, 0.25, 0.2, 0.25, 0.3, 0.25, 0.35, 0.45, 0.3,
    0.2, 0.3, 0.4, 0.5, 0.6, 0.55, 0.5, 0.45, 0.5, 0.45, 0.4, 0.35, 0.25, 0.3, 0.25, 0.3, 0.35, 0.3, 0.4, 0.3,
    0.35, 0.45, 0.4, 0.35, 0.4, 0.35, 0.3, 0.25, 0.3, 0.2, 0.15, 0.1, 0.05, 0.05, 0.1, 0.2, 0.4, 0.7, 0.7, 0.65,
    0.65]
D_ar1fit = [(0.366, 7.6), (0.40, 6.5), (0.44, 5.6), (0.50, 4.6), (0.55, 4.0), (0.60, 3.45),
            (0.65, 3.0), (0.70, 2.6), (0.75, 2.3), (0.80, 2.05), (0.85, 1.84), (0.90, 1.67),
            (1.0, 1.41), (1.1, 1.2), (1.2, 1.03), (1.3, 0.88), (1.4, 0.75), (1.5, 0.64),
            (1.6, 0.55), (1.8, 0.43), (2.0, 0.38), (2.25, 0.33), (2.5, 0.26), (2.75, 0.19),
            (3.0, 0.14), (3.25, 0.1), (3.5, 0.075), (3.75, 0.05), (4.0, 0.03)]
D_ar1 = [(0.0, 1), (0.115, 1), (0.263, 2), (0.278, 3), (0.292, 5), (0.307, 4), (0.322, 12),
         (0.329, 22), (0.337, 18), (0.344, 25), (0.352, 30), (0.359, 35), (0.366, 40), (0.374, 36),
         (0.381, 30), (0.388, 32), (0.396, 33), (0.403, 31), (0.411, 32), (0.418, 30), (0.425, 27),
         (0.433, 26), (0.44, 30), (0.448, 35), (0.455, 38), (0.462, 37), (0.47, 30), (0.477, 20),
         (0.484, 14), (0.492, 12), (0.499, 15), (0.507, 10), (0.514, 8), (0.521, 12), (0.529, 14),
         (0.536, 13), (0.544, 13), (0.551, 10), (0.558, 5), (0.566, 3), (0.573, 6), (0.581, 15),
         (0.588, 30), (0.595, 50), (0.603, 62), (0.61, 70), (0.617, 85), (0.625, 90), (0.632, 87),
         (0.64, 88), (0.654, 89), (0.677, 88), (0.691, 89), (0.706, 88), (0.713, 80), (0.721, 60),
         (0.728, 45), (0.736, 42), (0.743, 43), (0.75, 40), (0.758, 45), (0.765, 38), (0.773, 55),
         (0.78, 62), (0.787, 50), (0.795, 72), (0.802, 65), (0.809, 75), (0.817, 68), (0.824, 78),
         (0.832, 72), (0.839, 90), (0.846, 80), (0.854, 88), (0.861, 94), (0.869, 88), (0.876, 96),
         (0.883, 78), (0.891, 93), (0.898, 98), (0.942, 99), (0.994, 98), (1.001, 97), (1.009, 93),
         (1.016, 92), (1.024, 96), (1.038, 99), (1.149, 99.5), (1.29, 99), (1.297, 96), (1.304, 97),
         (1.312, 99), (1.888, 99.5), (2.301, 99.5), (2.309, 98), (2.316, 80), (2.323, 59),
         (2.331, 72), (2.338, 56), (2.346, 68), (2.353, 62), (2.361, 75), (2.368, 83), (2.375, 67),
         (2.383, 95), (2.39, 99), (3.085, 99), (3.092, 97), (3.10, 99), (3.232, 99), (3.24, 98),
         (3.254, 95), (3.262, 91), (3.269, 96), (3.276, 94), (3.284, 86), (3.291, 93), (3.298, 97),
         (3.313, 99), (3.882, 99), (3.897, 98), (3.926, 98), (3.941, 99), (4.0, 99.5)]
D_harm_peaks = [(0.021, 90.0), (0.092, 98.0), (0.248, 91.5), (0.337, 85.8), (0.502, 96.2),
                (0.579, 94.6), (0.648, 95.3), (0.789, 84.0), (0.818, 95.0), (0.938, 87.5),
                (1.056, 91.5), (1.095, 90.5), (1.223, 95.0), (1.298, 82.0), (1.366, 80.4),
                (1.420, 90.5), (1.552, 97.8), (1.616, 84.0), (1.727, 84.5), (1.764, 84.5),
                (1.877, 86.6), (1.943, 97.0), (2.035, 94.8), (2.072, 88.4), (2.143, 92.9),
                (2.229, 94.2), (2.261, 92.6), (2.357, 90.3), (2.437, 86.3), (2.493, 86.5),
                (2.570, 97.2), (2.635, 89.3), (2.685, 83.0), (2.784, 80.6), (2.800, 95.0),
                (2.861, 94.8), (2.947, 97.2), (3.016, 97.6), (3.083, 86.3), (3.173, 99.1),
                (3.204, 81.0), (3.269, 96.2), (3.374, 95.0), (3.436, 93.2), (3.522, 93.9),
                (3.593, 97.5), (3.676, 82.0), (3.693, 89.6), (3.776, 96.0), (3.805, 81.6),
                (3.836, 91.8), (3.867, 92.6)]

# grey highlight bands (frequency ranges) in panels B/C and in D
bands_BC = [(0.022, 0.071), (0.093, 0.190), (0.926, 0.952)]
bands_D = [(0.018, 0.164), (0.270, 0.480), (1.500, 1.625)]

# annotations
B_brackets = [("2.1-2.7 m", 0.354, 0.483), ("1.3-1.6 m", 0.612, 0.740)]
C_brackets = [("2.1-3.3 m", 0.430, 0.483), ("1.3-1.7 m", 0.580, 0.766)]
D_brackets = [("6-40 m", 0.018, 0.164), ("2.08-3.57 m", 0.270, 0.478),
              ("1.38-1.66 m", 0.580, 0.713), ("0.78-0.96 m", 1.032, 1.280),
              ("0.58-0.43 m", 1.719, 2.299)]

# ----------------------------------------------------------------- layout helpers
fig = plt.figure(figsize=(W / 100, H / 100), dpi=100)
FX0, FX1 = 74, 977
HSTEP = 0.0125


def fy(y):
    return 1 - y / H


def fpx(f):
    return FX0 + f * (FX1 - FX0) / 4.0


def make_ax(va, pa, vb, pb, lo, hi):
    s = (pa - pb) / (vb - va)
    top = pa - (hi - va) * s
    bot = pa + (va - lo) * s
    ax = fig.add_axes([FX0 / W, 1 - bot / H, (FX1 - FX0) / W, (bot - top) / H])
    ax.set_xlim(0, 4)
    ax.set_ylim(lo, hi)
    ax.patch.set_visible(False)
    for sp in ('top', 'right'):
        ax.spines[sp].set_visible(False)
    ax.spines['left'].set_position(('outward', 13 * 0.72))
    for sp in ('left', 'bottom'):
        ax.spines[sp].set_color(AXC)
        ax.spines[sp].set_linewidth(0.8)
    ax.spines['bottom'].set_bounds(0, 4)
    ax.tick_params(axis='both', direction='out', length=3.5, width=0.8, color=AXC, pad=2)
    ax.tick_params(axis='y', labelsize=7)
    ax.tick_params(axis='x', labelsize=8.5, pad=2.5)
    return ax, top, bot


def yaxis(ax, ticks, labels):
    ax.set_yticks(ticks)
    ax.set_yticklabels(labels)
    ax.spines['left'].set_bounds(ticks[0], ticks[-1])


def ylabel(text, top, bot):
    fig.text(15 / W, fy((top + bot) / 2), text, rotation=90, ha='center', va='center', fontsize=7)


def subtitle(text, y):
    fig.text((FX0 + FX1) / 2 / W, fy(y), text, ha='center', va='center', fontsize=8.5,
             fontweight='bold')


def dotted(ax, levels):
    for v in levels:
        ax.plot([-13 / 225.75, 4], [v, v], color=DOTC, lw=0.7, ls=(0, (1, 1.3)), clip_on=False,
                zorder=1)


def draw_mtm(ax, freq, power, fit):
    ax.plot(freq, power, color='black', lw=0.9, zorder=3)
    ff, fv = np.array(fit).T
    ax.plot(ff, fv, color=RED, lw=1.0, zorder=4, clip_on=False)
    ax.set_xticks(np.round(np.arange(0, 4.001, 0.1), 1))
    ax.tick_params(axis='x', labelbottom=False, length=4.5)


def draw_ar1(ax, series, dips):
    xs, ys = np.array(series).T
    ax.plot(xs, ys, color=RED, lw=0.9, zorder=3)
    dx, dv = np.array(dips).T
    ax.vlines(dx, dv, 99.5, color=RED, lw=1.0, zorder=3)
    dotted(ax, [90, 95, 99])
    yaxis(ax, [0, 20, 40, 60, 80, 100], ['0', '20', '40', '60', '80', '100'])
    ax.set_xticks([0, 1, 2, 3, 4])
    ax.tick_params(axis='x', labelbottom=False)


def draw_harm_bars(ax, values, minor):
    v = np.array(values, dtype=float)
    f = np.arange(len(v)) * HSTEP
    keep = v > 0
    ax.vlines(f[keep], 79.2, v[keep], color=RED, lw=1.1, zorder=3)
    m = np.array(minor, dtype=float)
    fm = (np.arange(len(m)) + 0.5) * HSTEP
    keep = m > 0
    ax.vlines(fm[keep], 79.2, m[keep], color=RED, lw=1.0, zorder=3)


def harm_axis(ax):
    dotted(ax, [90, 95, 99])
    yaxis(ax, [80, 85, 90, 95, 100], ['80', '85', '90', '95', '100'])
    ax.set_xticks([0, 1, 2, 3, 4])
    ax.set_xticklabels(['0', '1', '2', '3', '4'])


def freq_label(y):
    fig.text((FX0 + FX1) / 2 / W, fy(y), 'Frequency [Cycles/ m]', ha='center', va='center',
             fontsize=7.5)


def main_title(text, y):
    fig.text(62 / W, fy(y), text, ha='left', va='center', fontsize=15.5)


def letter(text, y):
    fig.text(984 / W, fy(y), text, ha='right', va='center', fontsize=21)


def bracket(ax, label, f0, f1, ybar, ytip, ytext, color='#808080'):
    ax.plot([f0, f0, f1, f1], [ytip, ybar, ybar, ytip], color=color, lw=0.9, clip_on=False,
            zorder=5)
    ax.text((f0 + f1) / 2, ytext, label, ha='center', va='center', fontsize=7.5,
            fontweight='bold', clip_on=False, zorder=6)


# ----------------------------------------------------------------- grey bands
for (b0, b1), (d0, d1) in zip(bands_BC, bands_D):
    pts = [(fpx(b0), 471), (fpx(b1), 471), (fpx(b1), 1246), (fpx(d1), 1395), (fpx(d1), 1742),
           (fpx(d0), 1742), (fpx(d0), 1395), (fpx(b0), 1246)]
    poly = Polygon([(x / W, fy(y)) for x, y in pts], closed=True, transform=fig.transFigure,
                   facecolor=BAND, edgecolor='none', zorder=-5)
    fig.add_artist(poly)

# ----------------------------------------------------------------- panel A
main_title('MTM Power Spectrum of the Pliensbachian Calcium Record', 17)
letter('A', 20)
ax, t, b = make_ax(0, 159, 6, 59, -0.3, 7.74)
fa, pa_ = np.array(A_mtm).T
draw_mtm(ax, fa, pa_, A_ar1fit)
yaxis(ax, [0, 2, 4, 6], ['0e+00', '2e+12', '4e+12', '6e+12'])
ylabel('Linear Power', t, b)
subtitle('MTM Power Estimates', 53)

ax, t, b = make_ax(0, 253, 100, 191, -4, 104)
draw_ar1(ax, A_ar1, A_ar1_dips)
ylabel('Confidence Level', t, b)
subtitle('AR1 Confidence Level Estimates', 179)

ax, t, b = make_ax(80, 338, 100, 277, 79.2, 100.8)
draw_harm_bars(ax, A_harm, A_harm_minor)
harm_axis(ax)
ylabel('Confidence Level', t, b)
subtitle('Harmonic Test Confidence Level Estimates', 268)
freq_label(372)

# ----------------------------------------------------------------- panel B
main_title('MTM Power Spectrum of the detrended (High-Band Pass Filter) Pliensbachian Calcium Record', 440)
letter('B', 470)
ax, t, b = make_ax(0, 588, 5, 473, -0.22, 5.65)
fb, pb_ = np.array(B_mtm).T
draw_mtm(ax, fb, pb_, B_ar1fit)
yaxis(ax, [0, 1, 2, 3, 4, 5], ['0e+00', '1e+11', '2e+11', '3e+11', '4e+11', '5e+11'])
ylabel('Linear Power', t, b)
subtitle('MTM Power Estimates', 488)
ax.plot([0.035, 0.182], [4.57, 5.13], color='#333333', lw=0.8, ls=(0, (4, 2)), clip_on=False)
ax.text(0.19, 5.04, '~24 m', ha='left', va='center', fontsize=7.5, fontweight='bold')
ax.plot([0.173, 0.244], [2.43, 3.87], color='#333333', lw=0.8, ls=(0, (4, 2)), clip_on=False)
ax.text(0.248, 4.13, '~5.8 m', ha='left', va='center', fontsize=7.5, fontweight='bold')
for lab, f0, f1 in B_brackets:
    bracket(ax, lab, f0, f1, 2.48, 2.3, 2.83)
ax.text(0.939, 2.83, '~1.08 m', ha='center', va='center', fontsize=7.5, fontweight='bold')

ax, t, b = make_ax(0, 682, 100, 620, -4, 104)
draw_ar1(ax, B_ar1, B_ar1_dips)
ylabel('Confidence Level', t, b)
subtitle('AR1 Confidence Level Estimates', 608)

ax, t, b = make_ax(80, 770, 100, 708, 79.2, 100.8)
draw_harm_bars(ax, B_harm, B_harm_minor)
harm_axis(ax)
ylabel('Confidence Level', t, b)
subtitle('Harmonic Test Confidence Level Estimates', 697)
freq_label(803)

# ----------------------------------------------------------------- panel C
main_title(r'MTM Power Spectrum of the detrended (High-Band Pass Filter) upper $\mathit{raricostatum}$ to', 868)
main_title(r'lower $\mathit{margaritatus}$ Calcium Record', 895)
letter('C', 922)
ax, t, b = make_ax(0, 1043, 4, 941, -0.2, 5.1)
fc, pc_ = np.array(C_mtm).T
draw_mtm(ax, fc, pc_, C_ar1fit)
yaxis(ax, [0, 1, 2, 3, 4, 5], ['0e+00', '', '2e+11', '', '4e+11', ''])
ylabel('Linear Power', t, b)
subtitle('MTM Power Estimates', 942)
ax.plot([0.035, 0.186], [4.63, 5.06], color='#333333', lw=0.8, ls=(0, (4, 2)), clip_on=False)
ax.text(0.19, 5.1, '~24 m', ha='left', va='center', fontsize=7.5, fontweight='bold')
ax.plot([0.168, 0.235], [2.59, 3.84], color='#333333', lw=0.8, ls=(0, (4, 2)), clip_on=False)
ax.text(0.239, 4.08, '~5.8 m', ha='left', va='center', fontsize=7.5, fontweight='bold')
for lab, f0, f1 in C_brackets:
    bracket(ax, lab, f0, f1, 2.59, 2.39, 2.98)
ax.text(0.944, 2.98, '~1.08 m', ha='center', va='center', fontsize=7.5, fontweight='bold')

ax, t, b = make_ax(0, 1143, 100, 1081, -4, 104)
draw_ar1(ax, C_ar1, C_ar1_dips)
ylabel('Confidence Level', t, b)
subtitle('AR1 Confidence Level Estimates', 1067)

ax, t, b = make_ax(80, 1246, 100, 1184, 79.2, 100.8)
draw_harm_bars(ax, C_harm, C_harm_minor)
harm_axis(ax)
ylabel('Confidence Level', t, b)
subtitle('Harmonic Test Confidence Level Estimates', 1170)
freq_label(1277)

# ----------------------------------------------------------------- panel D
main_title(r'MTM Power Spectrum of the detrended (High-Band Pass Filter) upper $\mathit{margaritatus}$ to', 1343)
main_title(r'lowermost $\mathit{tenuicostatum}$ Calcium Record', 1367)
letter('D', 1413)
ax, t, b = make_ax(0, 1561, 6, 1444, -0.26, 6.62)
fd = np.arange(len(D_mtm_power)) * 0.0125
draw_mtm(ax, fd, D_mtm_power, D_ar1fit)
yaxis(ax, [0, 1, 2, 3, 4, 5, 6], ['0e+00', '1e+10', '2e+10', '3e+10', '4e+10', '5e+10', '6e+10'])
ylabel('Linear Power', t, b)
subtitle('MTM Power Estimates', 1392)
for lab, f0, f1 in D_brackets:
    bracket(ax, lab, f0, f1, 6.56, 6.36, 7.64)
ax.text(1.586, 7.64, '~0.63 m', ha='center', va='center', fontsize=7.5, fontweight='bold')

ax, t, b = make_ax(0, 1652, 100, 1589, -4, 104)
xs, ys = np.array(D_ar1).T
ax.plot(xs, ys, color=RED, lw=0.9, zorder=3)
dotted(ax, [90, 95, 99])
yaxis(ax, [0, 20, 40, 60, 80, 100], ['0', '20', '40', '60', '80', '100'])
ax.set_xticks([0, 1, 2, 3, 4])
ax.tick_params(axis='x', labelbottom=False)
ylabel('Confidence Level', t, b)
subtitle('AR1 Confidence Level Estimates', 1578)

ax, t, b = make_ax(80, 1739, 100, 1677, 79.2, 100.8)
u = np.linspace(-1, 1, 15)
for c, h in D_harm_peaks:
    hw = 0.004 + 0.00045 * (h - 80)
    ax.plot(c + hw * u, h - (h - 79.0) * u ** 2, color=RED, lw=1.0, zorder=3)
harm_axis(ax)
ylabel('Confidence Level', t, b)
subtitle('Harmonic Test Confidence Level Estimates', 1666)
freq_label(1775)

fig.savefig('out.png', dpi=100)
